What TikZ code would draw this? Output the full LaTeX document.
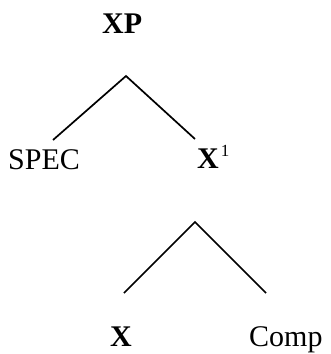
\documentclass[tikz,border=0pt]{standalone}
\usepackage{fontspec}
\setmainfont{Liberation Serif}
\begin{document}
\begin{tikzpicture}[x=1pt,y=-1pt,
  lbl/.style={inner sep=0pt,anchor=base west,font=\fontsize{30}{36}\selectfont},
  branch/.style={line width=1.7pt}]
      \useasboundingbox (0,0) rectangle (330,354);
      \node[lbl,font=\fontsize{30}{36}\selectfont\bfseries](XP) at (102,33) {XP};
      \node[lbl](SPEC) at (8,169) {SPEC};
      \node[lbl](Xbar) at (197,168) {\textbf{X}\hspace{2pt}\raisebox{12pt}{\fontsize{17}{17}\selectfont 1}};
      \node[lbl,font=\fontsize{30}{36}\selectfont\bfseries](X) at (110,346) {X};
      \node[lbl](Comp) at (249,346) {Comp};
      \coordinate (top1) at (126,76);
      \coordinate (SPECend) at (53,140);
      \coordinate (Xbarend) at (195,139);
      \coordinate (top2) at (195,222);
      \coordinate (Xend) at (124,293);
      \coordinate (Compend) at (266,293);
      \draw[branch] (SPECend)--(top1)--(Xbarend);
      \draw[branch] (Xend)--(top2)--(Compend);
      \end{tikzpicture}
\end{document}
